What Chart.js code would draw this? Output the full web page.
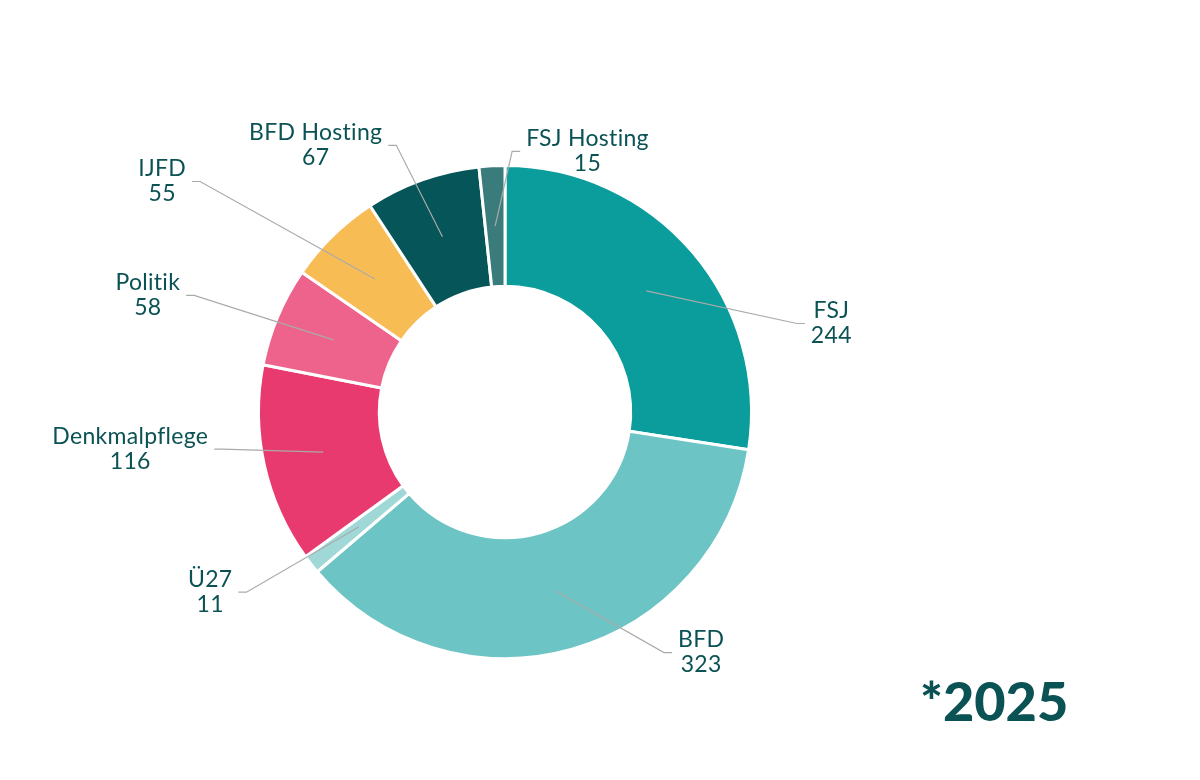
<!DOCTYPE html>
<html>
<head>
<meta charset="utf-8">
<script src="https://cdn.jsdelivr.net/npm/chart.js@4"></script>
<style>
  html, body { margin: 0; padding: 0; background: #ffffff; }
  #wrap { position: relative; width: 1200px; height: 780px; }
  #year {
    position: absolute; left: 920px; top: 668px;
    font-family: Lato, sans-serif; font-weight: 900; font-size: 54px;
    color: #0b5255; letter-spacing: 0px;
  }
</style>
</head>
<body>
<div id="wrap">
  <canvas id="chart" width="1200" height="780"></canvas>
  <div id="year">*2025</div>
</div>
<script>
var labels = ['FSJ', 'BFD', 'Ü27', 'Denkmalpflege', 'Politik', 'IJFD', 'BFD Hosting', 'FSJ Hosting'];
var values = [244, 323, 11, 116, 58, 55, 67, 15];
var colors = ['#0b9c9c', '#6cc4c4', '#a0d8d8', '#e83a6e', '#ee638c', '#f8bc55', '#065558', '#3a7b7c'];

// elbow of each leader line, relative to centre in units of the outer radius,
// plus which side the label sits on
var elbows = [
    [1.184, -0.359, 1],
    [0.645, 0.976, 1],
    [-1.049, 0.731, -1],
    [-1.147, 0.151, -1],
    [-1.261, -0.473, -1],
    [-1.237, -0.935, -1],
    [-0.441, -1.082, -1],
    [0.029, -1.057, 1]
];

var textColor = '#0b5255';
var labelFont = '23px Lato, sans-serif';

var leaderLabels = {
    id: 'leaderLabels',
    afterDatasetsDraw: function (chart) {
        var ctx = chart.ctx;
        var arcs = chart.getDatasetMeta(0).data;
        ctx.save();
        // small letter spacing keeps Lato from joining "ti" into a ligature
        ctx.letterSpacing = '0.3px';
        for (var i = 0; i < arcs.length; i++) {
            var a = arcs[i];
            var mid = (a.startAngle + a.endAngle) / 2;
            var r = (a.innerRadius + a.outerRadius) / 2;
            var sx = a.x + Math.cos(mid) * r;
            var sy = a.y + Math.sin(mid) * r;
            var ex = a.x + elbows[i][0] * a.outerRadius;
            var ey = a.y + elbows[i][1] * a.outerRadius;
            var side = elbows[i][2];
            var tx = ex + side * 8;

            ctx.strokeStyle = '#aaaaaa';
            ctx.lineWidth = 1.2;
            ctx.beginPath();
            ctx.moveTo(sx, sy);
            ctx.lineTo(ex, ey);
            ctx.lineTo(tx, ey);
            ctx.stroke();

            ctx.font = labelFont;
            var w = Math.max(ctx.measureText(labels[i]).width, ctx.measureText(String(values[i])).width);
            var cx = tx + side * (6 + w / 2);
            ctx.fillStyle = textColor;
            ctx.textAlign = 'center';
            ctx.textBaseline = 'middle';
            ctx.fillText(labels[i], cx, ey - 13);
            ctx.fillText(String(values[i]), cx, ey + 12);
        }
        ctx.restore();
    }
};

new Chart(document.getElementById('chart'), {
    type: 'doughnut',
    data: {
        labels: labels,
        datasets: [{
            data: values,
            backgroundColor: colors,
            borderColor: '#ffffff',
            borderWidth: 3,
            hoverOffset: 0
        }]
    },
    options: {
        responsive: false,
        animation: false,
        devicePixelRatio: 1,
        cutout: '51%',
        layout: { padding: { left: 257, right: 447, top: 164, bottom: 120 } },
        plugins: {
            legend: { display: false },
            tooltip: { enabled: false }
        }
    },
    plugins: [leaderLabels]
});
</script>
</body>
</html>
